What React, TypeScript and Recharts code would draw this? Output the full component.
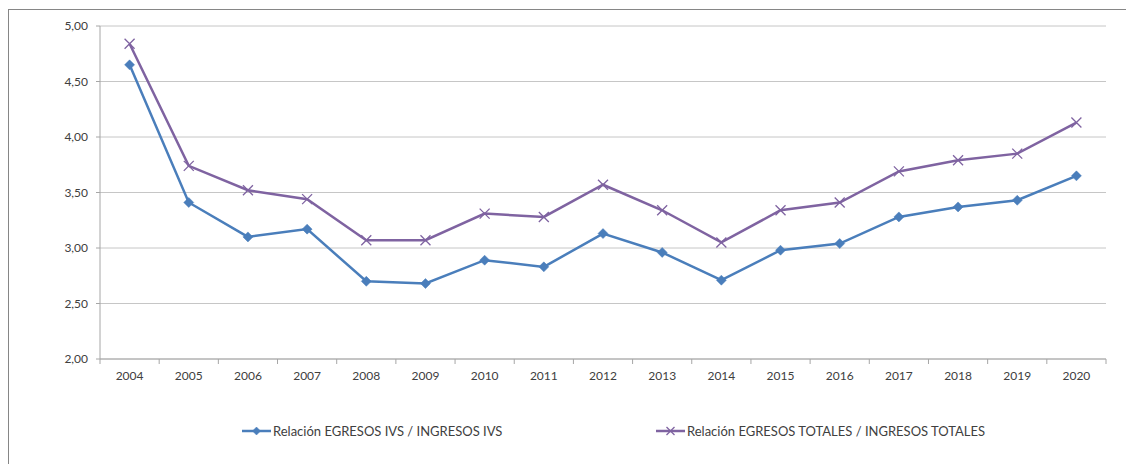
import React from 'react';
import { LineChart, Line, XAxis, YAxis, CartesianGrid, Legend } from 'recharts';

const years = ['2004', '2005', '2006', '2007', '2008', '2009', '2010', '2011', '2012', '2013', '2014', '2015', '2016', '2017', '2018', '2019', '2020'];
const ivs = [4.65, 3.41, 3.10, 3.17, 2.70, 2.68, 2.89, 2.83, 3.13, 2.96, 2.71, 2.98, 3.04, 3.28, 3.37, 3.43, 3.65];
const totales = [4.84, 3.74, 3.52, 3.44, 3.07, 3.07, 3.31, 3.28, 3.57, 3.34, 3.05, 3.34, 3.41, 3.69, 3.79, 3.85, 4.13];
const yTicks = [2, 2.5, 3, 3.5, 4, 4.5, 5];
const seriesNames = ['Relación EGRESOS IVS / INGRESOS IVS', 'Relación EGRESOS TOTALES / INGRESOS TOTALES'];

const BLUE = '#4a7ebb';
const PURPLE = '#7f63a1';
const TEXT = '#404040';
const FONT = 'Lato, "Open Sans", sans-serif';

const data = years.map((year, i) => ({ x: i + 0.5, year, ivs: ivs[i], tot: totales[i] }));
const xTicks = Array.from({ length: years.length + 1 }, (_, i) => i);

const W = 1126;
const H = 464;
const M = { top: 26, right: 20, left: 0, bottom: 75 };
const YW = 100;
const BAND = (W - M.right - YW) / years.length;

const XTick = (props: any) => {
  const { x, y, payload } = props;
  const i = payload.value;
  if (i >= years.length) return <g />;
  return (
    <text x={x + BAND / 2} y={y} dy="0.71em" textAnchor="middle" fill={TEXT} fontSize={12} fontFamily={FONT}>
      {years[i]}
    </text>
  );
};

const Diamond = (props: any) => {
  const { cx, cy, size = 5 } = props;
  if (cx == null || cy == null) return <g />;
  return <path d={`M${cx},${cy - size} L${cx + size},${cy} L${cx},${cy + size} L${cx - size},${cy} Z`} fill={BLUE} stroke={BLUE} strokeWidth={0.5} />;
};

const Cross = (props: any) => {
  const { cx, cy, size = 5 } = props;
  if (cx == null || cy == null) return <g />;
  return (
    <path d={`M${cx - size},${cy - size} L${cx + size},${cy + size} M${cx - size},${cy + size} L${cx + size},${cy - size}`} stroke={PURPLE} strokeWidth={1.3} fill="none" />
  );
};

const LegendContent = () => {
  const item = (name: string, color: string, marker: 'd' | 'x', left: number) => (
    <div style={{ position: 'absolute', left, top: 0, display: 'flex', alignItems: 'center', whiteSpace: 'nowrap' }}>
      <svg width={30} height={14} style={{ marginRight: 1 }}>
        <line x1={0} y1={7} x2={29} y2={7} stroke={color} strokeWidth={2.5} />
        {marker === 'd' ? <Diamond cx={14.5} cy={7} size={4} /> : <Cross cx={14.5} cy={7} size={4} />}
      </svg>
      <span style={{ fontFamily: FONT, fontSize: 13, color: TEXT }}>{name}</span>
    </div>
  );
  return (
    <div style={{ position: 'relative', width: W, height: 20 }}>
      {item(seriesNames[0], BLUE, 'd', 242)}
      {item(seriesNames[1], PURPLE, 'x', 656)}
    </div>
  );
};

export default function App() {
  return (
    <div style={{ position: 'absolute', left: 0, top: 0, width: W, height: H }}>
      <div style={{ position: 'absolute', left: 8, top: 9, width: 1118, height: 455, borderLeft: '1px solid #868686', borderTop: '1px solid #868686', boxSizing: 'border-box' }} />
      <div style={{ position: 'absolute', left: 0, top: 0 }}>
        <LineChart width={W} height={H} data={data} margin={M}>
          <CartesianGrid horizontal={true} vertical={false} stroke="#c6c6c6" strokeWidth={1} />
          <XAxis
            dataKey="x"
            type="number"
            domain={[0, years.length]}
            ticks={xTicks}
            interval={0}
            height={30}
            tickSize={5}
            tickMargin={7}
            tick={<XTick />}
            axisLine={{ stroke: '#a6a6a6' }}
            tickLine={{ stroke: '#a6a6a6' }}
          />
          <YAxis
            type="number"
            domain={[2, 5]}
            ticks={yTicks}
            width={YW}
            tickSize={4}
            tickMargin={8}
            tickFormatter={(v: number) => v.toFixed(2).replace('.', ',')}
            tick={{ fill: TEXT, fontSize: 12, fontFamily: FONT }}
            axisLine={{ stroke: '#a6a6a6' }}
            tickLine={{ stroke: '#a6a6a6' }}
          />
          <Legend verticalAlign="middle" layout="horizontal" content={<LegendContent />} wrapperStyle={{ top: 423, left: 0, width: W }} />
          <Line type="linear" dataKey="ivs" name={seriesNames[0]} stroke={BLUE} strokeWidth={2.5} dot={<Diamond size={5} />} activeDot={false} isAnimationActive={false} />
          <Line type="linear" dataKey="tot" name={seriesNames[1]} stroke={PURPLE} strokeWidth={2.5} dot={<Cross size={5} />} activeDot={false} isAnimationActive={false} />
        </LineChart>
      </div>
    </div>
  );
}
